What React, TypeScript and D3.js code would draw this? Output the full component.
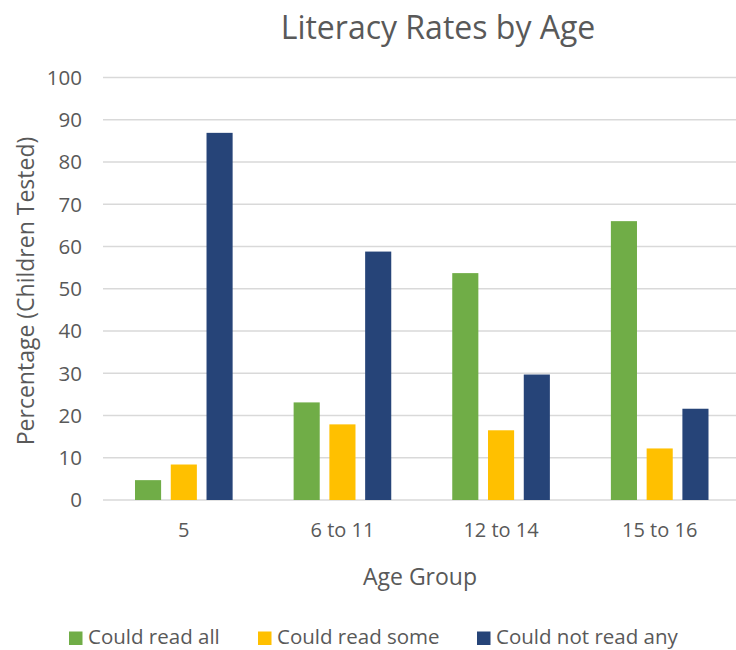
import React from "react";
import * as d3 from "d3";

const categories = ["5", "6 to 11", "12 to 14", "15 to 16"];
const seriesNames = ["Could read all", "Could read some", "Could not read any"];
const readAll = [4.7, 23.1, 53.7, 66.0];
const readSome = [8.4, 17.9, 16.5, 12.2];
const readNone = [86.9, 58.8, 29.7, 21.6];
const yTicks = [0, 10, 20, 30, 40, 50, 60, 70, 80, 90, 100];
const colors = ["#70AD47", "#FFC000", "#264478"];

const W = 736;
const H = 650;
const FONT = "'Open Sans', 'Noto Sans', sans-serif";
const TEXT = "#595959";

export default function App() {
  const series = [readAll, readSome, readNone];
  const x = d3.scaleBand<string>().domain(categories).range([104.5, 739]).paddingInner(0).paddingOuter(0);
  const y = d3.scaleLinear().domain([0, 100]).range([500, 77.5]);
  const inner = d3
    .scaleBand<number>()
    .domain([0, 1, 2])
    .range([30.5, x.bandwidth() - 30.5])
    .paddingInner(0.27)
    .paddingOuter(0);

  const legendX = [69, 258, 477];

  return (
    <svg width={W} height={H} style={{ position: "absolute", left: 0, top: 0, background: "#fff" }}>
      <rect x={0} y={0} width={W} height={H} fill="#fff" />
      <text x={438} y={39} textAnchor="middle" fontFamily={FONT} fontSize={32} fill={TEXT}>
        Literacy Rates by Age
      </text>
      {yTicks.map((t) => (
        <g key={t}>
          <line x1={103} x2={W} y1={y(t)} y2={y(t)} stroke="#D9D9D9" strokeWidth={t === 0 ? 1.5 : 1.3} />
          <text x={82} y={y(t)} dy="0.36em" textAnchor="end" fontFamily={FONT} fontSize={20.5} fill={TEXT}>
            {t}
          </text>
        </g>
      ))}
      {categories.map((c, ci) => (
        <g key={c} transform={`translate(${x(c)},0)`}>
          {series.map((s, si) => (
            <rect
              key={si}
              x={inner(si)}
              width={inner.bandwidth()}
              y={y(s[ci])}
              height={y(0) - y(s[ci])}
              fill={colors[si]}
            />
          ))}
          <text x={x.bandwidth() / 2} y={537} textAnchor="middle" fontFamily={FONT} fontSize={20} fill={TEXT}>
            {c}
          </text>
        </g>
      ))}
      <text x={420} y={585} textAnchor="middle" fontFamily={FONT} fontSize={23} fill={TEXT}>
        Age Group
      </text>
      <text transform="translate(34,291) rotate(-90)" textAnchor="middle" fontFamily={FONT} fontSize={23} fill={TEXT}>
        Percentage (Children Tested)
      </text>
      {seriesNames.map((n, i) => (
        <g key={n}>
          <rect x={legendX[i]} y={631.5} width={13.5} height={13.5} fill={colors[i]} />
          <text x={legendX[i] + 19} y={644} fontFamily={FONT} fontSize={20.5} fill={TEXT}>
            {n}
          </text>
        </g>
      ))}
    </svg>
  );
}
